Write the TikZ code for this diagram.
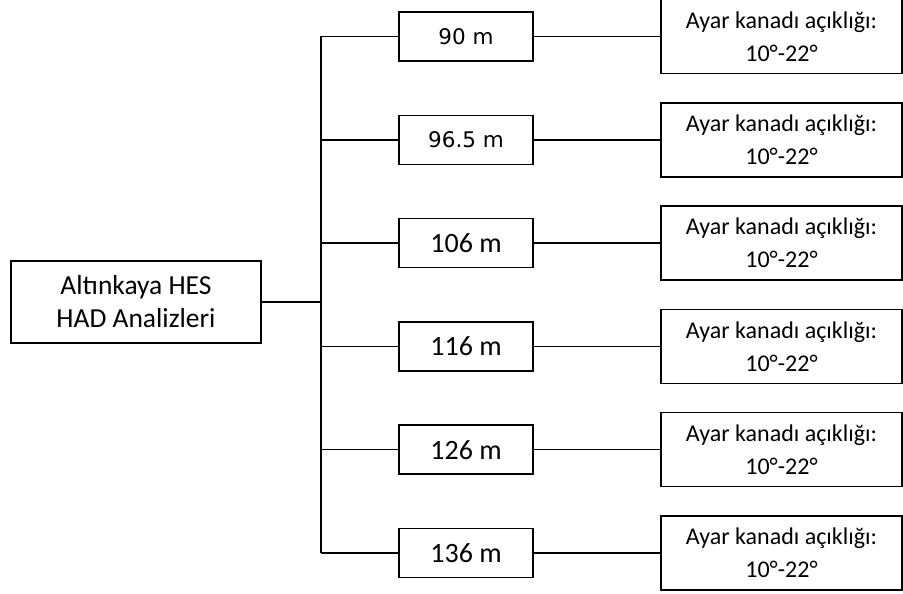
\documentclass[tikz,border=0pt]{standalone}
\usepackage{fontspec}
\setmainfont{Carlito}
\newfontfamily\dvsans{DejaVu Sans}
\begin{document}
\begin{tikzpicture}[x=1pt,y=-1pt,
  box/.style={draw=black,line width=1.5pt,fill=white,inner sep=0pt,align=center},
  mainfont/.style={font=\fontsize{27.5}{33}\selectfont},
  hfont/.style={font=\fontsize{28}{33}\selectfont},
  dvfont/.style={font=\dvsans\fontsize{21.5}{26}\selectfont},
  rfont/.style={font=\fontsize{24}{33}\selectfont},
  conn/.style={draw=black,line width=1.5pt}]
\useasboundingbox (0,0) rectangle (903,594);
\node[box,mainfont,minimum width=250pt,minimum height=82pt] (main) at (136,302) {Altınkaya HES\\HAD Analizleri};
\coordinate (trunk) at (321,302);
\foreach \i/\t/\f in {0/90 m/dvfont,1/96.5 m/dvfont,2/106 m/hfont,3/116 m/hfont,4/126 m/hfont,5/136 m/hfont}{
  \pgfmathsetmacro{\yy}{36.5+103.3*\i}
  \node[box,\f,minimum width=134pt,minimum height=49pt] (h\i) at (466,\yy) {\t};
  \node[box,rfont,minimum width=241pt,minimum height=74pt] (r\i) at (781.5,\yy) {Ayar kanadı açıklığı:\\10°-22°};
  \draw[conn] (h\i.east) -- (r\i.west);
  \coordinate (b\i) at (321,\yy);
  \draw[conn] (b\i) -- (h\i.west);
}
\draw[conn] (main.east) -- (trunk);
\draw[conn] (b0) -- (b5);
\end{tikzpicture}
\end{document}
